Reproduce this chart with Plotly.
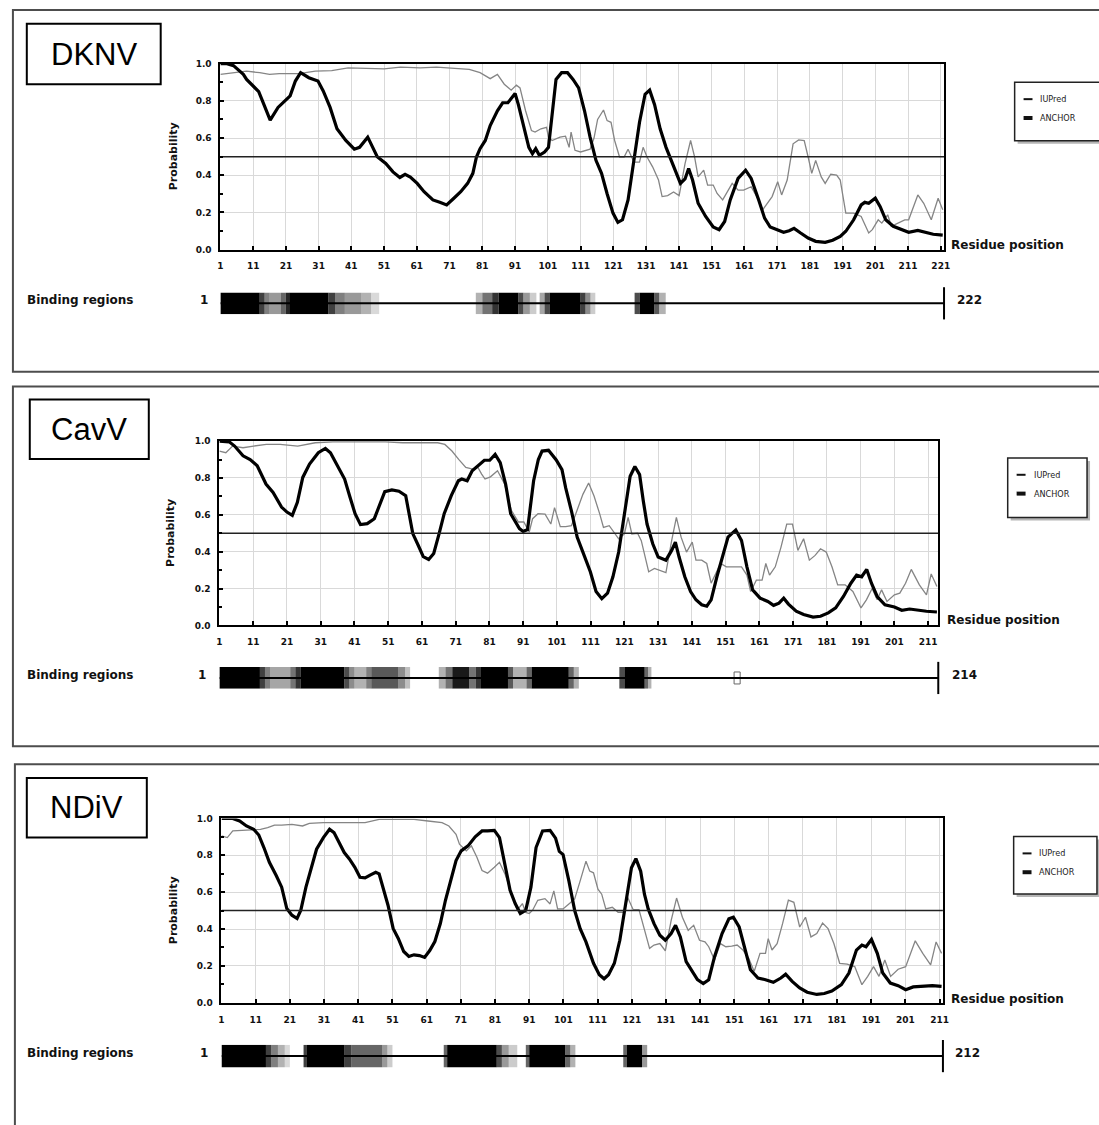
import plotly.graph_objects as go

W, H = 1099, 1125

# ====================== DATA ======================
viruses = ["DKNV", "CavV", "NDiV"]
seq_lengths = [222, 214, 212]
threshold = 0.5
series_names = ["IUPred", "ANCHOR"]
y_tick_vals = [0.0, 0.2, 0.4, 0.6, 0.8, 1.0]
y_tick_text = ["0.0", "0.2", "0.4", "0.6", "0.8", "1.0"]
dknv_xticks = list(range(1, 222, 10))
cavv_xticks = list(range(1, 212, 10))
ndiv_xticks = list(range(1, 212, 10))

# ---- DKNV ----
dknv_anchor_x = [1, 3, 5, 8, 9, 11, 12.7, 14.3, 16.2, 18.6, 20.7, 22.3, 23.9, 25.5, 28, 30.8, 32.4, 34.5,
                 36.6, 39.3, 41.9, 43.5, 46, 47.3, 48.9, 51.5, 53.7, 55.8, 57.4, 59, 61.1, 63.2, 65.9, 68,
                 70.1, 72.3, 74.4, 76.5, 78.1, 79.2, 80.3, 81.9, 83.4, 85.6, 87.2, 88.8, 91, 92, 93.6, 95.2,
                 96.3, 97.3, 98.4, 100, 101.2, 102.3, 103.5, 105.2, 107, 108.7, 110.4, 112.2, 113.9, 115.7,
                 117.4, 119.1, 120.9, 122.4, 123.8, 125.5, 127.3, 129, 130.7, 132.1, 133.6, 135.3, 137.1,
                 139.4, 141.5, 142.9, 144, 145.2, 146.9, 149.2, 151.5, 153.3, 155, 156.7, 159.1, 161.4,
                 163.1, 165.4, 167.2, 168.9, 171.2, 173, 174.7, 176.2, 178.2, 180.5, 182.8, 185.7, 188,
                 190.3, 192, 194.4, 196.7, 197.8, 199, 201, 202.5, 204.2, 206.5, 208.8, 211.2, 214, 216.3,
                 218.7, 221.6]
dknv_anchor_y = [1.0, 1.0, 0.99, 0.943, 0.916, 0.88, 0.85, 0.78, 0.697, 0.765, 0.80, 0.827, 0.907, 0.952,
                 0.925, 0.907, 0.854, 0.765, 0.65, 0.587, 0.54, 0.55, 0.605, 0.56, 0.50, 0.463, 0.418,
                 0.388, 0.405, 0.39, 0.356, 0.311, 0.267, 0.254, 0.24, 0.276, 0.311, 0.356, 0.41, 0.498,
                 0.543, 0.587, 0.667, 0.747, 0.79, 0.79, 0.84, 0.78, 0.658, 0.55, 0.516, 0.543, 0.507,
                 0.525, 0.55, 0.73, 0.916, 0.952, 0.952, 0.916, 0.87, 0.747, 0.605, 0.48, 0.41, 0.30,
                 0.196, 0.146, 0.16, 0.267, 0.48, 0.685, 0.836, 0.858, 0.78, 0.65, 0.55, 0.445, 0.356,
                 0.38, 0.436, 0.374, 0.249, 0.178, 0.121, 0.107, 0.151, 0.267, 0.383, 0.427, 0.383, 0.267,
                 0.169, 0.121, 0.107, 0.093, 0.101, 0.114, 0.089, 0.062, 0.044, 0.039, 0.05, 0.071, 0.098,
                 0.16, 0.24, 0.254, 0.249, 0.276, 0.231, 0.16, 0.125, 0.11, 0.093, 0.103, 0.093, 0.082,
                 0.077]
dknv_iupred_x = [1, 5, 9, 13, 16, 19, 25, 30, 35, 40, 46, 51, 56, 62, 67, 72, 77, 80.3, 83.4, 85.6, 87.7,
                 89.8, 91.4, 92.5, 94.2, 96, 97.1, 98.9, 100.6, 101.2, 102.3, 104.7, 106.4, 107.5, 108.1,
                 109.3, 111, 113.9, 115.1, 116.2, 118, 119.1, 120.3, 121.4, 122.9, 124.3, 125.5, 127.3,
                 129, 130.1, 131.3, 133, 134.8, 135.9, 137.6, 139.4, 141.1, 142.9, 144.6, 145.8, 146.9,
                 148.6, 149.8, 151.5, 152.7, 154.4, 156.2, 157.3, 159.1, 160.8, 163.1, 164.8, 166.6,
                 168.3, 169.5, 171.2, 172.4, 174.1, 175.9, 177.6, 179.3, 180.5, 181.6, 182.8, 184.5,
                 185.7, 187.4, 189.2, 190.3, 192, 194.4, 196.7, 199, 200.1, 201.9, 203, 204.8, 205.9,
                 207.7, 210, 211.2, 214, 215.8, 218.1, 220.2, 221.6]
dknv_iupred_y = [0.943, 0.95, 0.96, 0.952, 0.943, 0.947, 0.947, 0.96, 0.963, 0.978, 0.975, 0.973, 0.982,
                 0.978, 0.982, 0.978, 0.97, 0.952, 0.92, 0.943, 0.89, 0.858, 0.885, 0.87, 0.747, 0.64,
                 0.632, 0.65, 0.658, 0.605, 0.587, 0.605, 0.61, 0.55, 0.632, 0.534, 0.525, 0.54, 0.6,
                 0.70, 0.751, 0.694, 0.685, 0.587, 0.498, 0.498, 0.54, 0.47, 0.47, 0.55, 0.498, 0.445,
                 0.374, 0.285, 0.29, 0.31, 0.29, 0.463, 0.587, 0.5, 0.391, 0.427, 0.347, 0.347, 0.302,
                 0.267, 0.32, 0.356, 0.32, 0.32, 0.338, 0.285, 0.214, 0.258, 0.285, 0.365, 0.294, 0.374,
                 0.569, 0.59, 0.587, 0.498, 0.41, 0.48, 0.391, 0.356, 0.405, 0.40, 0.374, 0.196, 0.196,
                 0.178, 0.089, 0.107, 0.16, 0.142, 0.187, 0.125, 0.142, 0.16, 0.16, 0.294, 0.249, 0.16,
                 0.276, 0.214]
dknv_bind_start = [1, 13, 14.5, 16, 19.5, 21, 22, 34, 36, 39, 44, 47,
                   79, 81, 84, 86, 92, 93.5, 95.5, 98.5, 100, 101.5, 111, 112.5, 114,
                   127.5, 129, 133.5, 135]
dknv_bind_end = [13, 14.5, 16, 19.5, 21, 22, 34, 36, 39, 44, 47, 49.5,
                 81, 84, 86, 92, 93.5, 95.5, 97.5, 100, 101.5, 111, 112.5, 114, 115.5,
                 129, 133.5, 135, 137]
dknv_bind_score = [1.0, 0.75, 0.5, 0.4, 0.6, 0.85, 1.0, 0.75, 0.5, 0.4, 0.3, 0.15,
                   0.3, 0.55, 0.8, 1.0, 0.7, 0.4, 0.2, 0.35, 0.7, 1.0, 0.75, 0.45, 0.2,
                   0.7, 1.0, 0.65, 0.3]

# ---- CavV ----
cavv_anchor_x = [1, 3.9, 5.5, 8, 10.1, 12.2, 14.8, 16.9, 19.4, 21, 22.6, 24.1, 25.7, 27.7, 30.3, 32.4, 33.9,
                 36, 38.1, 39.7, 41.2, 42.8, 44.8, 46.9, 48.5, 50, 52.1, 54.2, 56.2, 57.3, 58.3, 59.9,
                 61.4, 63, 64.5, 66.1, 67.6, 69.7, 71.8, 72.8, 74.4, 75.9, 78, 79.5, 81.1, 82.7, 84.2,
                 85.8, 87.3, 88.9, 89.9, 91, 92.3, 93, 94.1, 95.5, 96.6, 98.5, 100.8, 102.5, 103.6, 105.3,
                 107, 108.7, 110.9, 112.6, 114.3, 116, 117.6, 119.3, 121, 122.7, 124.1, 125.5, 126.6,
                 127.7, 129.4, 131, 133.3, 135, 136.1, 137.2, 138.9, 140.6, 142.2, 143.9, 145.4, 146.7,
                 148.4, 150.1, 151.7, 154, 155.7, 157.3, 159, 161.2, 163.5, 165.2, 166.8, 168.2, 169.6,
                 171.9, 174.1, 176.9, 179.1, 181.4, 183.6, 185.9, 188.1, 189.8, 191.3, 192.8, 194.2,
                 195.9, 198.2, 201, 203.2, 205.5, 207.7, 210.5, 213.6]
cavv_anchor_y = [1.0, 0.996, 0.973, 0.92, 0.90, 0.866, 0.767, 0.722, 0.642, 0.615, 0.597, 0.668, 0.803,
                 0.875, 0.937, 0.96, 0.937, 0.866, 0.794, 0.695, 0.606, 0.547, 0.552, 0.579, 0.66, 0.726,
                 0.735, 0.728, 0.704, 0.606, 0.498, 0.435, 0.373, 0.358, 0.39, 0.498, 0.606, 0.704, 0.785,
                 0.794, 0.785, 0.839, 0.875, 0.896, 0.896, 0.928, 0.883, 0.767, 0.606, 0.552, 0.525, 0.51,
                 0.52, 0.624, 0.785, 0.9, 0.946, 0.95, 0.898, 0.845, 0.746, 0.621, 0.479, 0.398, 0.291,
                 0.184, 0.145, 0.175, 0.264, 0.398, 0.612, 0.809, 0.862, 0.818, 0.675, 0.55, 0.443, 0.371,
                 0.354, 0.407, 0.452, 0.371, 0.264, 0.184, 0.139, 0.112, 0.104, 0.139, 0.264, 0.371, 0.479,
                 0.518, 0.461, 0.318, 0.193, 0.148, 0.13, 0.109, 0.121, 0.148, 0.116, 0.077, 0.059, 0.045,
                 0.05, 0.068, 0.095, 0.157, 0.229, 0.273, 0.264, 0.304, 0.229, 0.157, 0.112, 0.1, 0.082,
                 0.089, 0.082, 0.077, 0.073]
cavv_iupred_x = [1, 2.9, 4.9, 8, 11.1, 14.9, 19, 24.2, 29.4, 34.6, 39.8, 45, 50.2, 55.3, 60.5, 65.7, 67.8,
                 69.9, 71.9, 74, 76.1, 77.6, 78.7, 79.7, 81.3, 83.4, 85.5, 87.5, 89.6, 91.2, 92.8, 93.8,
                 95.4, 97.5, 99.2, 100.3, 102, 103.6, 105.3, 107, 108.7, 110.4, 112, 113.7, 114.8, 116.5,
                 117.6, 119.3, 121, 122.1, 123.2, 124.9, 126, 127.1, 128.2, 129.9, 131.6, 133.3, 135,
                 136.4, 137.8, 139.4, 141.1, 142.2, 143.9, 145.4, 146.7, 148.4, 149.5, 151.2, 153.4,
                 155.7, 157.3, 158.4, 160.1, 161.8, 162.9, 164, 165.7, 167.4, 169.1, 170.8, 172.4, 174.1,
                 175.8, 177.5, 179.1, 180.8, 182.5, 184.2, 186.4, 188.7, 191.1, 192.7, 194.4, 195.9,
                 197.2, 198.8, 201, 202.6, 204.3, 206, 208.4, 210.5, 211.9, 213.6]
cavv_iupred_y = [0.946, 0.937, 0.973, 0.964, 0.973, 0.982, 0.982, 0.973, 0.991, 0.996, 0.996, 0.996, 0.996,
                 0.991, 0.991, 0.991, 0.982, 0.946, 0.901, 0.857, 0.848, 0.857, 0.821, 0.794, 0.806,
                 0.839, 0.767, 0.624, 0.561, 0.561, 0.507, 0.579, 0.606, 0.604, 0.55, 0.639, 0.536, 0.536,
                 0.541, 0.621, 0.711, 0.773, 0.702, 0.604, 0.532, 0.541, 0.514, 0.47, 0.496, 0.586, 0.496,
                 0.5, 0.46, 0.371, 0.291, 0.309, 0.3, 0.287, 0.46, 0.586, 0.479, 0.398, 0.452, 0.354,
                 0.354, 0.336, 0.229, 0.291, 0.336, 0.318, 0.318, 0.318, 0.273, 0.184, 0.246, 0.246,
                 0.336, 0.273, 0.318, 0.425, 0.55, 0.55, 0.407, 0.47, 0.354, 0.38, 0.416, 0.398, 0.318,
                 0.22, 0.22, 0.184, 0.095, 0.139, 0.2, 0.139, 0.193, 0.13, 0.166, 0.175, 0.229, 0.304,
                 0.22, 0.166, 0.279, 0.211]
cavv_bind_start = [1, 13, 14.5, 16, 22, 23.5, 25, 38, 39.5, 41, 44.5, 46, 54, 56,
                   66, 68, 70, 75, 77, 78.5, 86.5, 88, 92, 93.5, 104.5, 106,
                   119.5, 121, 127, 128]
cavv_bind_end = [13, 14.5, 16, 22, 23.5, 25, 38, 39.5, 41, 44.5, 46, 54, 56, 57.5,
                 68, 70, 75, 77, 78.5, 86.5, 88, 92, 93.5, 104.5, 106, 107.5,
                 121, 127, 128, 129]
cavv_bind_score = [1.0, 0.75, 0.5, 0.35, 0.55, 0.8, 1.0, 0.7, 0.45, 0.3, 0.5, 0.65, 0.45, 0.25,
                   0.3, 0.55, 0.9, 0.55, 0.8, 1.0, 0.65, 0.3, 0.6, 1.0, 0.6, 0.3,
                   0.7, 1.0, 0.6, 0.3]
cavv_weak_site = [153.5, 155.3]

# ---- NDiV ----
ndiv_anchor_x = [1, 4.3, 6.3, 8.3, 10.4, 11.9, 13.4, 15, 17, 18.6, 20.1, 21.6, 23.1, 24.2, 25.7, 27.2, 28.8,
                 30.8, 32.6, 33.9, 35.4, 36.9, 38.4, 40, 41.5, 43, 44.6, 46.1, 47.1, 48.1, 49.7, 51.2,
                 52.7, 54.3, 55.8, 57.3, 58.9, 60.4, 61.9, 63.4, 65, 66.5, 68, 69.6, 71.1, 73.1, 75.2,
                 77.2, 78.8, 80.8, 82.3, 83.9, 85.4, 86.9, 88.4, 90, 91.5, 93, 94.9, 97.1, 98.7, 99.8,
                 100.9, 102.6, 104.3, 105.9, 107.6, 109.8, 111.5, 112.9, 114.2, 115.9, 117.5, 119.2,
                 120.9, 122.2, 123.6, 124.7, 125.8, 127.5, 129.2, 130.8, 132.5, 133.8, 135.2, 136.9,
                 138.6, 140.2, 141.9, 143.5, 145.2, 147.4, 149.4, 150.7, 152.4, 154.1, 155.7, 157.9,
                 160.1, 162.4, 164.6, 166, 167.9, 170.1, 172.3, 175.1, 177.3, 179.5, 182.3, 184.5, 186.7,
                 188.3, 189.5, 191.1, 192.8, 194.4, 196.6, 198.9, 201.1, 203.3, 206.6, 208.9, 211.6]
ndiv_anchor_y = [1.0, 1.0, 0.986, 0.959, 0.941, 0.91, 0.842, 0.762, 0.69, 0.627, 0.511, 0.475, 0.457,
                 0.502, 0.627, 0.735, 0.833, 0.896, 0.941, 0.923, 0.869, 0.815, 0.78, 0.735, 0.681, 0.677,
                 0.694, 0.708, 0.699, 0.627, 0.529, 0.403, 0.349, 0.278, 0.251, 0.26, 0.256, 0.246, 0.283,
                 0.332, 0.43, 0.556, 0.663, 0.771, 0.824, 0.851, 0.9, 0.932, 0.932, 0.935, 0.896, 0.753,
                 0.61, 0.538, 0.484, 0.502, 0.627, 0.842, 0.932, 0.935, 0.893, 0.821, 0.804, 0.661, 0.5,
                 0.402, 0.33, 0.214, 0.152, 0.13, 0.152, 0.214, 0.339, 0.536, 0.732, 0.782, 0.714, 0.589,
                 0.509, 0.429, 0.366, 0.339, 0.375, 0.42, 0.357, 0.223, 0.17, 0.125, 0.104, 0.125, 0.25,
                 0.375, 0.455, 0.464, 0.411, 0.286, 0.179, 0.134, 0.125, 0.111, 0.134, 0.155, 0.116, 0.08,
                 0.057, 0.045, 0.05, 0.063, 0.098, 0.161, 0.286, 0.313, 0.304, 0.343, 0.268, 0.161, 0.107,
                 0.093, 0.071, 0.086, 0.089, 0.093, 0.089]
ndiv_iupred_x = [1, 2.7, 4.3, 8.3, 12.4, 14.5, 16.5, 18.6, 21.6, 24.7, 26.7, 30.8, 36.9, 43, 47.1, 51.2,
                 57.3, 61.4, 65.5, 67.5, 69.6, 70.6, 72.6, 74.1, 75.7, 77.2, 78.8, 80.8, 82.3, 83.9, 85.9,
                 87.5, 89, 90, 91, 92, 93.5, 95.6, 97.1, 98.2, 99.3, 100.9, 102.6, 104.3, 105.9, 107.6,
                 108.7, 109.8, 111.1, 112.2, 113.4, 115.3, 117, 118.7, 119.8, 121.4, 123.1, 124.7, 126.2,
                 127.5, 129.2, 130.8, 132.5, 134.1, 135.8, 137.5, 139.1, 140.8, 142.4, 143.5, 145.2,
                 146.9, 148.5, 150.2, 151.8, 153.5, 155.2, 156.8, 158.5, 160.1, 160.9, 162, 163.5, 165.1,
                 166.8, 168.4, 170.1, 171.8, 173.4, 175.1, 176.8, 178.4, 180.1, 181.8, 184, 186.2, 188.3,
                 190, 191.7, 193.3, 195, 196.7, 198.9, 201.1, 203.9, 206.1, 208.4, 210, 211.6]
ndiv_iupred_y = [0.905, 0.896, 0.932, 0.936, 0.941, 0.95, 0.964, 0.964, 0.968, 0.959, 0.973, 0.977, 0.977,
                 0.977, 0.995, 0.995, 0.995, 0.986, 0.977, 0.959, 0.914, 0.86, 0.824, 0.851, 0.789, 0.717,
                 0.703, 0.735, 0.762, 0.699, 0.591, 0.502, 0.538, 0.49, 0.484, 0.502, 0.556, 0.565, 0.536,
                 0.607, 0.509, 0.509, 0.536, 0.563, 0.661, 0.768, 0.714, 0.705, 0.616, 0.589, 0.509,
                 0.518, 0.491, 0.491, 0.571, 0.505, 0.505, 0.393, 0.295, 0.313, 0.321, 0.282, 0.446,
                 0.568, 0.464, 0.393, 0.42, 0.339, 0.33, 0.304, 0.232, 0.321, 0.304, 0.307, 0.313, 0.286,
                 0.241, 0.17, 0.268, 0.268, 0.348, 0.286, 0.321, 0.429, 0.557, 0.545, 0.411, 0.464, 0.357,
                 0.375, 0.432, 0.402, 0.321, 0.214, 0.21, 0.196, 0.098, 0.143, 0.196, 0.143, 0.232, 0.143,
                 0.182, 0.196, 0.336, 0.268, 0.205, 0.33, 0.268]
ndiv_bind_start = [1, 14, 15.5, 17.5, 19.5, 25, 26, 37, 39, 48, 49.5,
                   66, 67, 81.5, 83, 85, 90, 91, 101.5, 103, 118.5, 119.5, 124]
ndiv_bind_end = [14, 15.5, 17.5, 19.5, 21, 26, 37, 39, 48, 49.5, 51,
                 67, 81.5, 83, 85, 87.5, 91, 101.5, 103, 104.5, 119.5, 124, 125.5]
ndiv_bind_score = [1.0, 0.75, 0.5, 0.3, 0.15, 0.75, 1.0, 0.75, 0.6, 0.4, 0.2,
                   0.6, 1.0, 0.7, 0.4, 0.2, 0.6, 1.0, 0.6, 0.3, 0.6, 1.0, 0.4]

anchor_x = [dknv_anchor_x, cavv_anchor_x, ndiv_anchor_x]
anchor_y = [dknv_anchor_y, cavv_anchor_y, ndiv_anchor_y]
iupred_x = [dknv_iupred_x, cavv_iupred_x, ndiv_iupred_x]
iupred_y = [dknv_iupred_y, cavv_iupred_y, ndiv_iupred_y]
bind_start = [dknv_bind_start, cavv_bind_start, ndiv_bind_start]
bind_end = [dknv_bind_end, cavv_bind_end, ndiv_bind_end]
bind_score = [dknv_bind_score, cavv_bind_score, ndiv_bind_score]
x_ticks = [dknv_xticks, cavv_xticks, ndiv_xticks]

# ====================== GEOMETRY (pixels) ======================
geom = [
    dict(px0=219.2, px1=948.8, top=59.3, bot=246.7, s_top=290, s_bot=312,
         frame=(10, 5, 1120, 370), lab=(24, 19, 159, 80), leg=(1020, 78, 1106, 137), prob_x=172,
         res=(954, 242), bind_y=298, one_x=203, end_x=960),
    dict(px0=218.2, px1=943.0, top=440, bot=626, s_top=668, s_bot=690,
         frame=(10, 385, 1120, 748), lab=(27, 398, 147, 458), leg=(1013, 457, 1093, 517),
         prob_x=169, res=(950, 621), bind_y=676, one_x=201, end_x=955),
    dict(px0=220.3, px1=947.7, top=820.7, bot=1006.7, s_top=1049, s_bot=1072,
         frame=(12, 766, 1120, 1140), lab=(24, 780, 145, 840), leg=(1019, 839, 1103, 897),
         prob_x=172, res=(954, 1003), bind_y=1057, one_x=203, end_x=958),
]
legend_line_widths = [2, 4]


def fx(px):
    return px / W


def fy(py):
    return 1 - py / H


BOLD = dict(family="DejaVu Sans", size=9, color="#111111", weight="bold")

fig = go.Figure()
layout = dict(width=W, height=H, autosize=False, margin=dict(l=0, r=0, t=0, b=0),
              paper_bgcolor="white", plot_bgcolor="white", showlegend=False,
              shapes=[], annotations=[])

for i, name in enumerate(viruses):
    g = geom[i]
    L = seq_lengths[i]
    n_main, n_strip = 2 * i + 1, 2 * i + 2
    xa, ya = f"x{n_main}", f"y{n_main}"
    xs, ys = f"x{n_strip}", f"y{n_strip}"

    # frame of the panel
    fx0, fy0, fx1, fy1 = g["frame"]
    layout["shapes"].append(dict(type="rect", xref="paper", yref="paper", x0=fx(fx0), x1=fx(fx1),
                                 y0=fy(fy0), y1=fy(fy1), line=dict(color="#4d4d4d", width=2),
                                 fillcolor="rgba(0,0,0,0)", layer="below"))
    # virus label box
    lx0, ly0, lx1, ly1 = g["lab"]
    layout["shapes"].append(dict(type="rect", xref="paper", yref="paper", x0=fx(lx0), x1=fx(lx1),
                                 y0=fy(ly0), y1=fy(ly1), line=dict(color="black", width=2),
                                 fillcolor="white"))
    layout["annotations"].append(dict(text=name, xref="paper", yref="paper", x=fx((lx0 + lx1) / 2),
                                      y=fy((ly0 + ly1) / 2), showarrow=False, xanchor="center",
                                      yanchor="middle",
                                      font=dict(family="Liberation Sans", size=31, color="black")))

    # curves
    fig.add_trace(go.Scatter(x=iupred_x[i], y=iupred_y[i], mode="lines", name=series_names[0],
                             line=dict(color="#858585", width=1.3), xaxis=xa, yaxis=ya))
    fig.add_trace(go.Scatter(x=anchor_x[i], y=anchor_y[i], mode="lines", name=series_names[1],
                             line=dict(color="black", width=3.2), xaxis=xa, yaxis=ya))
    fig.add_trace(go.Scatter(x=[1, L], y=[threshold, threshold], mode="lines",
                             line=dict(color="#222222", width=1.5), xaxis=xa, yaxis=ya,
                             hoverinfo="skip"))

    # binding regions strip
    starts, ends, sc = bind_start[i], bind_end[i], bind_score[i]
    fig.add_trace(go.Bar(orientation="h", y=[0.5] * len(starts), base=starts,
                         x=[e - s for s, e in zip(starts, ends)], width=1.0,
                         marker=dict(color=[f"rgba(0,0,0,{v})" for v in sc], line=dict(width=0)),
                         xaxis=xs, yaxis=ys, hoverinfo="skip"))
    if name == "CavV":
        fig.add_trace(go.Bar(orientation="h", y=[0.5], base=[cavv_weak_site[0]],
                             x=[cavv_weak_site[1] - cavv_weak_site[0]], width=0.55,
                             marker=dict(color="white", line=dict(color="#666666", width=1)),
                             xaxis=xs, yaxis=ys, hoverinfo="skip"))
    fig.add_trace(go.Scatter(x=[1, L], y=[0.5, 0.5], mode="lines", line=dict(color="black", width=2),
                             xaxis=xs, yaxis=ys, hoverinfo="skip"))
    fig.add_trace(go.Scatter(x=[L], y=[0.5], mode="markers", cliponaxis=False,
                             marker=dict(symbol="line-ns", size=23, line=dict(color="black", width=2)),
                             xaxis=xs, yaxis=ys, hoverinfo="skip"))

    xdom = [fx(g["px0"]), fx(g["px1"])]
    sfx = "" if n_main == 1 else str(n_main)
    layout[f"xaxis{sfx}"] = dict(domain=xdom, range=[1, L], anchor=ya, tickmode="array",
                                 tickvals=x_ticks[i], ticktext=[str(t) for t in x_ticks[i]],
                                 ticks="inside", ticklen=4, tickwidth=1.5, tickcolor="black",
                                 showgrid=True, gridcolor="#d9d9d9", gridwidth=1, zeroline=False,
                                 showline=True, linecolor="black", linewidth=2, mirror=True,
                                 tickfont=BOLD, ticklabelstandoff=7, fixedrange=True)
    layout[f"yaxis{sfx}"] = dict(domain=[fy(g["bot"]), fy(g["top"])], range=[0, 1], anchor=xa,
                                 tickmode="array", tickvals=y_tick_vals, ticktext=y_tick_text,
                                 ticks="inside", ticklen=4, tickwidth=1.5, tickcolor="black",
                                 minor=dict(dtick=0.1, ticks="inside", ticklen=3, tickcolor="black",
                                            showgrid=False),
                                 showgrid=True, gridcolor="#d9d9d9", gridwidth=1, zeroline=False,
                                 showline=True, linecolor="black", linewidth=2, mirror=True,
                                 tickfont=BOLD, ticklabelstandoff=5, fixedrange=True)
    layout[f"xaxis{n_strip}"] = dict(domain=xdom, range=[1, L], anchor=ys, visible=False,
                                     fixedrange=True)
    layout[f"yaxis{n_strip}"] = dict(domain=[fy(g["s_bot"]), fy(g["s_top"])], range=[0, 1],
                                     anchor=xs, visible=False, fixedrange=True)

    # texts
    layout["annotations"].append(dict(text="<b>Probability</b>", xref="paper", yref="paper",
                                      x=fx(g["prob_x"]), y=fy((g["top"] + g["bot"]) / 2),
                                      textangle=-90, showarrow=False, xanchor="center",
                                      yanchor="middle",
                                      font=dict(family="DejaVu Sans", size=11, color="#111")))
    layout["annotations"].append(dict(text="<b>Residue position</b>", xref="paper", yref="paper",
                                      x=fx(g["res"][0]), y=fy(g["res"][1]), showarrow=False,
                                      xanchor="left", yanchor="middle",
                                      font=dict(family="DejaVu Sans", size=12, color="#111")))
    layout["annotations"].append(dict(text="<b>Binding regions</b>", xref="paper", yref="paper",
                                      x=fx(22), y=fy(g["bind_y"]), showarrow=False, xanchor="left",
                                      yanchor="middle",
                                      font=dict(family="DejaVu Sans", size=12, color="#111")))
    layout["annotations"].append(dict(text="<b>1</b>", xref="paper", yref="paper",
                                      x=fx(g["one_x"]), y=fy(g["bind_y"]), showarrow=False,
                                      xanchor="center", yanchor="middle",
                                      font=dict(family="DejaVu Sans", size=12, color="#111")))
    layout["annotations"].append(dict(text=f"<b>{L}</b>", xref="paper", yref="paper",
                                      x=fx(g["end_x"]), y=fy(g["bind_y"]), showarrow=False,
                                      xanchor="left", yanchor="middle",
                                      font=dict(family="DejaVu Sans", size=12, color="#111")))

    # legend box (drawn)
    bx0, by0, bx1, by1 = g["leg"]
    layout["shapes"].append(dict(type="rect", xref="paper", yref="paper", x0=fx(bx0 + 3),
                                 x1=fx(bx1 + 3), y0=fy(by0 + 3), y1=fy(by1 + 3),
                                 line=dict(width=0), fillcolor="#b5b5b5"))
    layout["shapes"].append(dict(type="rect", xref="paper", yref="paper", x0=fx(bx0), x1=fx(bx1),
                                 y0=fy(by0), y1=fy(by1), line=dict(color="#222", width=1.5),
                                 fillcolor="white"))
    for k, sname in enumerate(series_names):
        ey = by0 + 17 + 19 * k
        layout["shapes"].append(dict(type="line", xref="paper", yref="paper", x0=fx(bx0 + 9),
                                     x1=fx(bx0 + 18), y0=fy(ey), y1=fy(ey),
                                     line=dict(color="#111", width=legend_line_widths[k])))
        layout["annotations"].append(dict(text=sname, xref="paper", yref="paper", x=fx(bx0 + 24),
                                          y=fy(ey), showarrow=False, xanchor="left",
                                          yanchor="middle",
                                          font=dict(family="DejaVu Sans Condensed", size=9,
                                                    color="#222")))

layout["barmode"] = "overlay"
fig.update_layout(**layout)
fig.write_html("out.html", config={"displayModeBar": False},
               post_script="document.body.style.margin='0px';document.body.style.overflow='hidden';")
